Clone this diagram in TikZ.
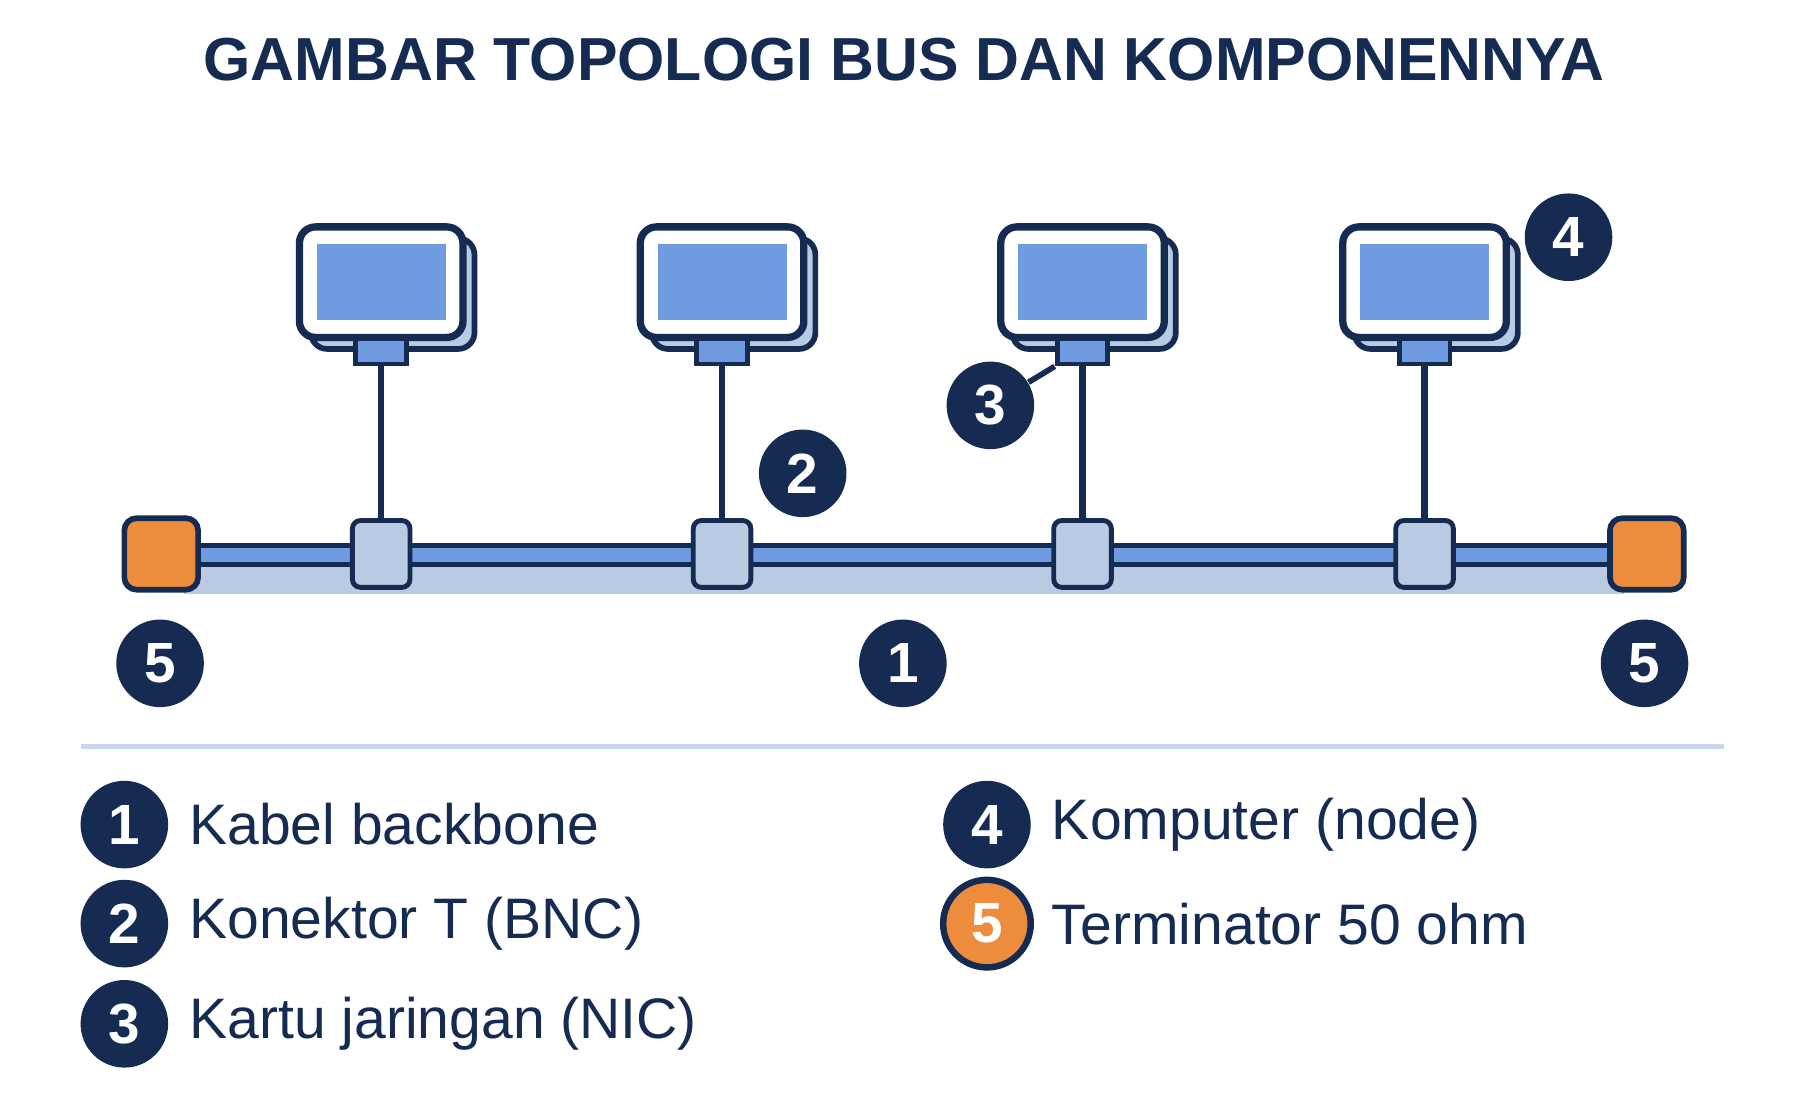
\documentclass[tikz,border=0pt]{standalone}
\usepackage{fontspec}
\setmainfont{Liberation Sans}
\definecolor{navy}{HTML}{152B52}
\definecolor{scrblue}{HTML}{6F9BE0}
\definecolor{paleblue}{HTML}{B9CBE2}
\definecolor{termorange}{HTML}{EE8C3E}
\definecolor{rule}{HTML}{C8D8EA}
\tikzset{
  badge/.style={circle, fill=navy, text=white, minimum size=0.76cm, inner sep=0pt, font=\fontsize{14}{14}\selectfont\bfseries},
  tconn/.style={draw=navy, line width=1.2pt, fill=paleblue, rounded corners=2pt, minimum width=0.5cm, minimum height=0.58cm},
  term/.style={draw=navy, line width=1.4pt, fill=termorange, rounded corners=3pt, minimum width=0.64cm, minimum height=0.62cm},
  legend/.style={anchor=west, text=navy, font=\fontsize{14.1}{14}\selectfont},
}
\begin{document}
\begin{tikzpicture}[x=0.01cm, y=-0.01cm]
\useasboundingbox (0,0) rectangle (1563,972);
\node[text=navy, font=\fontsize{15}{15}\selectfont\bfseries] (title) at (785,52) {GAMBAR TOPOLOGI BUS DAN KOMPONENNYA};

% backbone
\fill[paleblue] (160,490) rectangle (1410,516);
\draw[navy, line width=1.2pt, fill=scrblue] (140,474) rectangle (1430,490);
\node[term] (termL) at (140,481) {};
\node[term] (termR) at (1430,481) {};

% computers
\foreach \i/\x in {a/331, b/627, c/940, d/1237}{
  \draw[navy, line width=1.4pt, fill=paleblue, rounded corners=4pt] (\x-61,207) rectangle (\x+81,303);
  \draw[navy, line width=1.8pt, fill=white, rounded corners=4pt] (\x-71,197) rectangle (\x+71,293);
  \fill[scrblue] (\x-56,212) rectangle (\x+56,278);
  \node[draw=navy, line width=1.2pt, fill=scrblue, minimum width=0.44cm, minimum height=0.22cm, inner sep=0pt] (nic\i) at (\x,305) {};
  \node[tconn] (t\i) at (\x,481) {};
  \draw[navy, line width=1.6pt] (nic\i.south) -- (t\i.north);
}

% badges
\node[badge] (b4) at (1362,206) {4};
\node[badge] (b3) at (860,352) {3};
\node[badge] (b2) at (697,411) {2};
\node[badge] (b5l) at (139,576) {5};
\node[badge] (b1) at (784,576) {1};
\node[badge] (b5r) at (1428,576) {5};
\draw[navy, line width=1.4pt] (b3) -- (nicc.south west);

\draw[rule, line width=1.2pt] (70,648) -- (1497,648);

% legend
\node[badge] (l1) at (108,716) {1};
\node[legend] at (152,716) {Kabel backbone};
\node[badge] (l2) at (108,802) {2};
\node[legend] at (152,802) {Konektor T (BNC)};
\node[badge] (l3) at (108,889) {3};
\node[legend] at (152,889) {Kartu jaringan (NIC)};
\node[badge] (l4) at (857,716) {4};
\node[legend] at (901,716) {Komputer (node)};
\node[badge, fill=termorange, draw=navy, line width=1.6pt] (l5) at (857,802) {5};
\node[legend] at (901,802) {Terminator 50 ohm};
\end{tikzpicture}
\end{document}
